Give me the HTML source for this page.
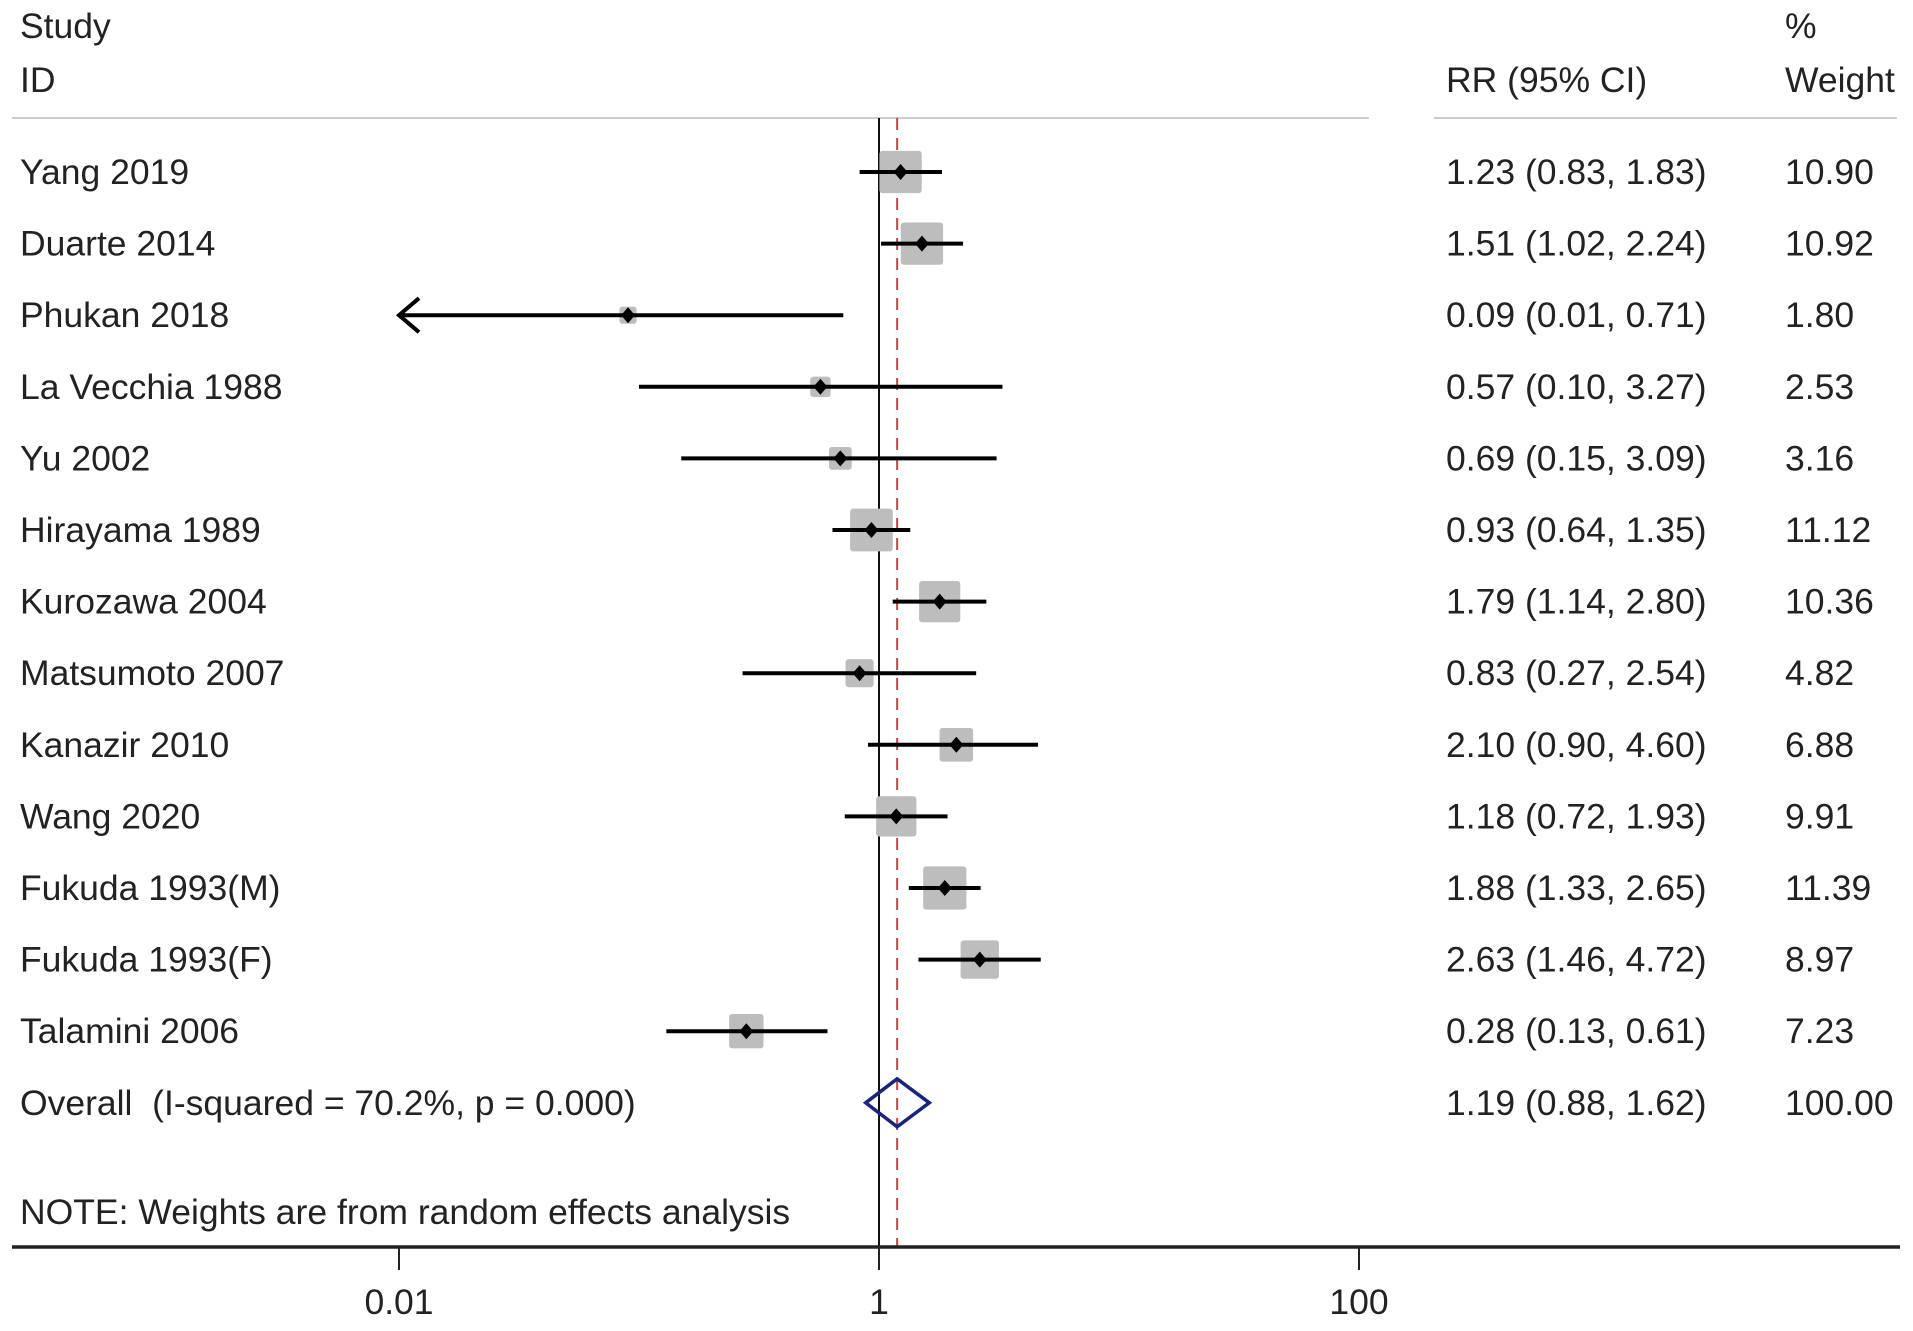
<!DOCTYPE html>
<html><head><meta charset="utf-8"><style>
body{margin:0;background:#fff}
svg text{font-family:"Liberation Sans",Arial,sans-serif;font-size:35.5px;fill:#222;white-space:pre}
</style></head><body>
<svg id="chart" width="1913" height="1326" viewBox="0 0 1913 1326" xmlns="http://www.w3.org/2000/svg">
<text x="20" y="38">Study</text>
<text x="20" y="92">ID</text>
<text x="1446" y="92">RR (95% CI)</text>
<text x="1785" y="38">%</text>
<text x="1785" y="92">Weight</text>
<line x1="12" y1="118" x2="1369" y2="118" stroke="#ccc" stroke-width="2"/>
<line x1="1434" y1="118" x2="1897" y2="118" stroke="#ccc" stroke-width="2"/>
<text x="20" y="1224">NOTE: Weights are from random effects analysis</text>
<g id="marks"></g>
</svg>
<script>
const studies=["Yang 2019","Duarte 2014","Phukan 2018","La Vecchia 1988","Yu 2002","Hirayama 1989","Kurozawa 2004","Matsumoto 2007","Kanazir 2010","Wang 2020","Fukuda 1993(M)","Fukuda 1993(F)","Talamini 2006"];
const rr=[1.23,1.51,0.09,0.57,0.69,0.93,1.79,0.83,2.10,1.18,1.88,2.63,0.28];
const lo=[0.83,1.02,0.01,0.10,0.15,0.64,1.14,0.27,0.90,0.72,1.33,1.46,0.13];
const hi=[1.83,2.24,0.71,3.27,3.09,1.35,2.80,2.54,4.60,1.93,2.65,4.72,0.61];
const weights=[10.90,10.92,1.80,2.53,3.16,11.12,10.36,4.82,6.88,9.91,11.39,8.97,7.23];
const overall=[1.19,0.88,1.62];
const overallWeight=100.00;
const overallLabel="Overall  (I-squared = 70.2%, p = 0.000)";
const ticks=[0.01,1,100];
const tickLabels=["0.01","1","100"];

const NS="http://www.w3.org/2000/svg";
const g=document.getElementById('marks');
const X=v=>879+240*Math.log10(v);
const Y=i=>172+71.6*i;
const AXMIN=0.01;
function el(t,a,p){const e=document.createElementNS(NS,t);for(const k in a)e.setAttribute(k,a[k]);(p||g).appendChild(e);return e;}
const fmt=v=>v.toFixed(2);

let e=el('line',{x1:879,y1:118,x2:879,y2:1247,stroke:'#111','stroke-width':2});


e=el('line',{x1:X(overall[0]),y1:118,x2:X(overall[0]),y2:1247,stroke:'#c44','stroke-width':2,'stroke-dasharray':'12,8'});



studies.forEach((s,i)=>{
  const y=Y(i);
  const side=12.8*Math.sqrt(weights[i]);
  let b=el('rect',{x:X(rr[i])-side/2,y:y-side/2,width:side,height:side,fill:'#bdbdbd',rx:3});
  
  
  const l=Math.max(lo[i],AXMIN);
  let c=el('line',{x1:X(l),y1:y,x2:X(hi[i]),y2:y,stroke:'#000','stroke-width':4});
  
  
  if(lo[i]<=AXMIN){
    const ax=X(AXMIN);
    let a=el('polyline',{points:`${ax+20},${y-17} ${ax},${y} ${ax+20},${y+17}`,fill:'none',stroke:'#000','stroke-width':4});
    
    
  }
  let d=el('path',{d:`M${X(rr[i])-7},${y} L${X(rr[i])},${y-8} L${X(rr[i])+7},${y} L${X(rr[i])},${y+8}Z`,fill:'#000'});
  
  
  let t=el('text',{x:20,y:y+12});t.textContent=s;
  
  
  t=el('text',{x:1446,y:y+12});t.textContent=`${fmt(rr[i])} (${fmt(lo[i])}, ${fmt(hi[i])})`;
  
  
  t=el('text',{x:1785,y:y+12});t.textContent=fmt(weights[i]);
  
  
});
const yo=Y(studies.length);
e=el('path',{d:`M${X(overall[1])},${yo} L${X(overall[0])},${yo-24} L${X(overall[2])},${yo} L${X(overall[0])},${yo+24}Z`,fill:'none',stroke:'#1a237e','stroke-width':3.5});


let t=el('text',{x:20,y:yo+12});t.textContent=overallLabel;


t=el('text',{x:1446,y:yo+12});t.textContent=`${fmt(overall[0])} (${fmt(overall[1])}, ${fmt(overall[2])})`;


t=el('text',{x:1785,y:yo+12});t.textContent=fmt(overallWeight);



e=el('line',{x1:12,y1:1247,x2:1900,y2:1247,stroke:'#222','stroke-width':3.5});


ticks.forEach((v,i)=>{
  let k=el('line',{x1:X(v),y1:1247,x2:X(v),y2:1270,stroke:'#222','stroke-width':2});
  
  
  let tl=el('text',{x:X(v),y:1314,'text-anchor':'middle'});tl.textContent=tickLabels[i];
  
  
});
</script>
</body></html>
